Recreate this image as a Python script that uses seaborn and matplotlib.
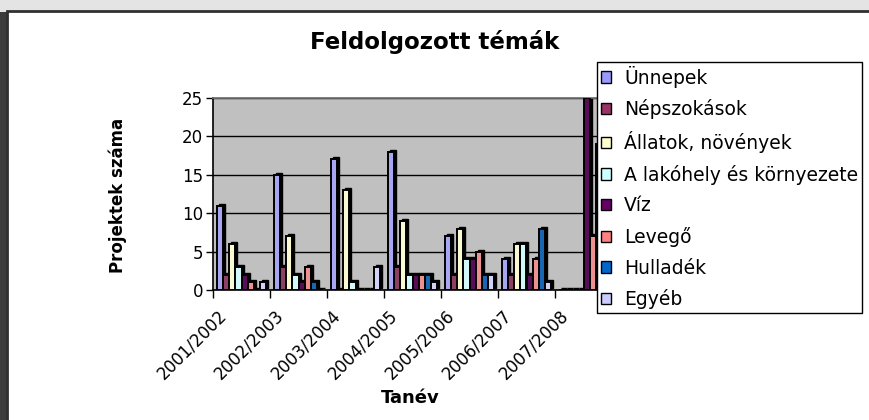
import numpy as np
import pandas as pd
import seaborn as sns
import matplotlib.pyplot as plt
import matplotlib.transforms as mtransforms
from matplotlib.patches import Rectangle

# tanévek
years = ["2001/2002", "2002/2003", "2003/2004", "2004/2005",
         "2005/2006", "2006/2007", "2007/2008"]

topics = ["Ünnepek", "Népszokások", "Állatok, növények",
          "A lakóhely és környezete", "Víz", "Levegő", "Hulladék", "Egyéb"]

unnepek = [11, 15, 17, 18, 7, 4, 0]
nepszokasok = [2, 3, 0, 3, 2, 2, 0]
allatok = [6, 7, 13, 9, 8, 6, 0]
lakohely = [3, 2, 1, 2, 4, 6, 0]
viz = [2, 1, 0, 2, 4, 2, 25]
levego = [1, 3, 0, 2, 5, 4, 7]
hulladek = [0, 1, 0, 2, 2, 8, 19]
egyeb = [1, 0, 3, 1, 2, 1, 0]

colors = ["#9999FF", "#993366", "#FFFFCC", "#CCFFFF",
          "#660066", "#FF8080", "#0066CC", "#CCCCFF"]

series = [unnepek, nepszokasok, allatok, lakohely, viz, levego, hulladek, egyeb]
rows = []
for topic, vals in zip(topics, series):
    for y, v in zip(years, vals):
        rows.append({"Tanév": y, "Téma": topic, "Projektek": v})
df = pd.DataFrame(rows)

sns.set_theme(style="white")
plt.rcParams['font.family'] = ['DejaVu Sans']
for k in ["text.color", "axes.labelcolor", "xtick.color", "ytick.color"]:
    plt.rcParams[k] = "black"

W, H = 869, 420
fig = plt.figure(figsize=(W / 100, H / 100), dpi=100)
fig.patch.set_facecolor("white")

# keret (Excel-szerű árnyék)
fig.patches.append(Rectangle((0, 0), 1, 1, transform=fig.transFigure,
                             facecolor="#e4e4e4", edgecolor="none", zorder=-10))
fig.patches.append(Rectangle((0, 0), 7 / W, 1 - 12 / H, transform=fig.transFigure,
                             facecolor="#3c3c3c", edgecolor="none", zorder=-9))
fig.patches.append(Rectangle((7 / W, -0.05), 1.1, 1 - 11 / H + 0.05,
                             transform=fig.transFigure, facecolor="white",
                             edgecolor="#303030", linewidth=2, zorder=-8))

ax = fig.add_axes([213 / W, (H - 290) / H, (612 - 213) / W, (290 - 98) / H])
ax.set_facecolor("#c0c0c0")

sns.barplot(data=df, x="Tanév", y="Projektek", hue="Téma", palette=colors,
            edgecolor="black", linewidth=1.4, width=0.86, ax=ax,
            legend=False, zorder=3)

# mélység-hatás
offset = mtransforms.offset_copy(ax.transData, fig=fig, x=2, y=2, units="dots")
for p in list(ax.patches):
    ax.add_patch(Rectangle(p.get_xy(), p.get_width(), p.get_height(),
                           transform=offset, facecolor="black",
                           edgecolor="black", linewidth=1, zorder=2))

ax.set_ylim(0, 25)
ax.set_xlim(-0.5, len(years) - 0.5)
ax.set_yticks(range(0, 26, 5))
ax.yaxis.grid(True, color="black", linewidth=1)
ax.set_axisbelow(True)
for s in ["left", "bottom"]:
    ax.spines[s].set_color("black")
    ax.spines[s].set_linewidth(1.2)
for s in ["top", "right"]:
    ax.spines[s].set_color("#707070")

ax.tick_params(axis="y", direction="out", length=5, width=1, color="black",
               labelsize=12, left=True, pad=2)
ax.set_xticks(np.arange(-0.5, len(years), 1), minor=True)
ax.tick_params(axis="x", which="minor", direction="out", length=6, width=1,
               color="black", bottom=True)
ax.tick_params(axis="x", which="major", length=0, labelsize=12, pad=8)
ax.set_xticks(range(len(years)))
ax.set_xticklabels(years, rotation=45, ha="right", rotation_mode="anchor")
shift = mtransforms.ScaledTranslation(-0.24, -0.05, fig.dpi_scale_trans)
for lab in ax.get_xticklabels():
    lab.set_transform(lab.get_transform() + shift)
ax.set_xlabel("")
ax.set_ylabel("")

fig.text(435 / W, 1 - 42 / H, "Feldolgozott témák", ha="center", va="center",
         fontsize=16.5, fontweight="bold")
fig.text(118 / W, 1 - 195 / H, "Projektek száma", ha="center", va="center",
         rotation=90, fontsize=12, fontweight="bold")
fig.text(410 / W, 1 - 398 / H, "Tanév", ha="center", va="center",
         fontsize=13, fontweight="bold")

handles = [Rectangle((0, 0), 1, 1, facecolor=c, edgecolor="black", linewidth=1)
           for c in colors]
leg = fig.legend(handles, topics, loc="upper left",
                 bbox_to_anchor=(597 / W, 1 - 62 / H), fontsize=13.5,
                 frameon=True, fancybox=False, framealpha=1, edgecolor="black",
                 handlelength=0.55, handleheight=0.55, handletextpad=0.7,
                 labelspacing=0.62, borderpad=0.2, borderaxespad=0)
leg.get_frame().set_linewidth(1)

fig.savefig("out.png", dpi=100)
